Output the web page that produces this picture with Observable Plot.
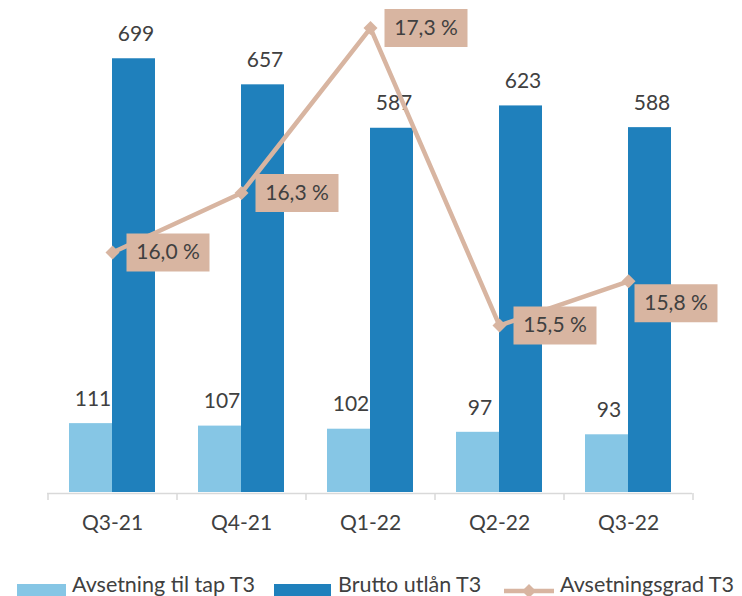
<!DOCTYPE html>
<html>
<head>
<meta charset="utf-8">
<script src="https://cdn.jsdelivr.net/npm/d3@7"></script>
<script src="https://cdn.jsdelivr.net/npm/@observablehq/plot@0.6"></script>
<style>
  html, body { margin: 0; padding: 0; background: #fff; }
  #chart { position: relative; width: 742px; height: 596px; overflow: hidden; font-family: Lato, sans-serif; }
  #chart > svg { position: absolute; left: 0; top: 0; }
  .legend { position: absolute; top: 573px; left: 0; width: 742px; height: 23px; color: #404040; font-size: 21.5px; line-height: 22px; }
  .lbl { position: absolute; top: 0; white-space: nowrap; }
  .sw { position: absolute; top: 11px; height: 14px; }
</style>
</head>
<body>
<div id="chart"></div>
<script>
const quarters = ["Q3-21", "Q4-21", "Q1-22", "Q2-22", "Q3-22"];
const avsetning = [111, 107, 102, 97, 93];
const brutto = [699, 657, 587, 623, 588];
const grad = [15.97, 16.32, 17.29, 15.54, 15.80];
const seriesNames = ["Avsetning til tap T3", "Brutto utlån T3", "Avsetningsgrad T3"];

const cLight = "#86C6E5";
const cDark = "#1F80BC";
const cTan = "#D8B5A1";
const cText = "#404040";
const cAxis = "#D9D9D9";

const rows = quarters.map((q, i) => ({q, a: avsetning[i], b: brutto[i], g: grad[i], i}));
const fmtPct = v => v.toFixed(1).replace(".", ",") + " %";

const W = 742, H = 560;
const common = {
  width: W, height: H,
  marginLeft: 47, marginRight: 50, marginTop: 8, marginBottom: 68,
  x: {domain: quarters, paddingInner: 1 / 3, paddingOuter: 1 / 6, axis: null},
};
const half = 43;

const bars = Plot.plot({
  ...common,
  style: {fontFamily: "Lato, sans-serif", background: "white"},
  y: {domain: [0, 780], axis: null},
  marks: [
    Plot.barY(rows, {x: "q", y: "a", fill: cLight, insetRight: half}),
    Plot.barY(rows, {x: "q", y: "b", fill: cDark, insetLeft: half}),
    Plot.text(rows, {x: "q", y: "a", text: d => String(d.a), dx: -half / 2 + 2, dy: -24.5, fontSize: 21, fill: cText}),
    Plot.text(rows, {x: "q", y: "b", text: d => String(d.b), dx: half / 2 + 2, dy: -24.5, fontSize: 21, fill: cText}),
    Plot.ruleY([0], {stroke: cAxis, strokeWidth: 1.5, dy: 1}),
    Plot.tickX(quarters, {x: d => d, dx: -64.5, stroke: cAxis, strokeWidth: 1.5, insetTop: 485, insetBottom: -8}),
    Plot.tickX(quarters.slice(-1), {x: d => d, dx: 64.5, stroke: cAxis, strokeWidth: 1.5, insetTop: 485, insetBottom: -8}),
    Plot.text(quarters, {x: d => d, y: 0, dy: 31, text: d => d, fontSize: 21, fill: cText})
  ]
});

const boxSymbol = {draw(ctx) { ctx.rect(0, -19, 83, 38); }};
const main = rows.slice(0, 4), last = rows.slice(4);

const line = Plot.plot({
  ...common,
  style: {fontFamily: "Lato, sans-serif", background: "none"},
  y: {domain: [14.558, 17.405], axis: null},
  marks: [
    Plot.line(rows, {x: "q", y: "g", stroke: cTan, strokeWidth: 4.5}),
    Plot.dot(rows, {x: "q", y: "g", symbol: "diamond2", r: 6.3, fill: cTan}),
    Plot.dot(main, {x: "q", y: "g", symbol: boxSymbol, fill: cTan, dx: 14}),
    Plot.dot(last, {x: "q", y: "g", symbol: boxSymbol, fill: cTan, dx: 6, dy: 22}),
    Plot.text(main, {x: "q", y: "g", text: d => fmtPct(d.g), dx: 14 + 41.5, fontSize: 21, fill: cText}),
    Plot.text(last, {x: "q", y: "g", text: d => fmtPct(d.g), dx: 6 + 41.5, dy: 22, fontSize: 21, fill: cText})
  ]
});

const chart = document.getElementById("chart");
chart.appendChild(bars);
chart.appendChild(line);

const legend = document.createElement("div");
legend.className = "legend";
const lineSwatch = `<svg width="50" height="14" style="position:absolute;left:504px;top:11px" viewBox="0 0 50 14"><line x1="0" x2="50" y1="7" y2="7" stroke="${cTan}" stroke-width="4.5"/><path d="M25,0L32,7L25,14L18,7Z" fill="${cTan}"/></svg>`;
legend.innerHTML = `
  <span class="sw" style="left:17px;width:49px;background:${cLight}"></span>
  <span class="lbl" style="left:72px">${seriesNames[0]}</span>
  <span class="sw" style="left:274px;width:57px;background:${cDark}"></span>
  <span class="lbl" style="left:338px">${seriesNames[1]}</span>
  ${lineSwatch}
  <span class="lbl" style="left:560px">${seriesNames[2]}</span>`;
chart.appendChild(legend);
</script>
</body>
</html>
